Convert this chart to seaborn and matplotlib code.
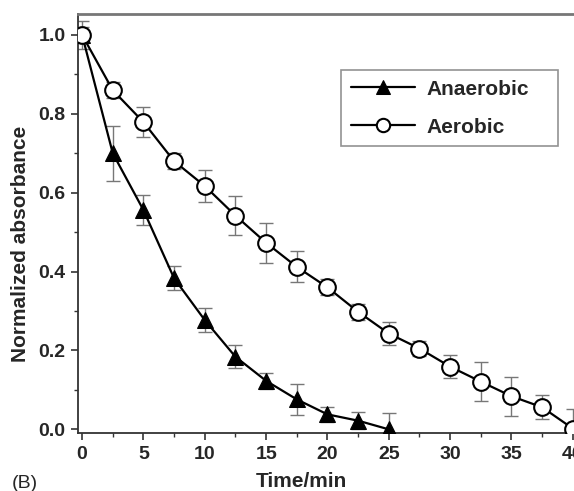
import matplotlib
matplotlib.use("Agg")
import matplotlib.pyplot as plt
import seaborn as sns
import numpy as np
import pandas as pd
from matplotlib.ticker import MultipleLocator

# data
t_anaer = [0, 2.5, 5, 7.5, 10, 12.5, 15, 17.5, 20, 22.5, 25]
y_anaer = [1.0, 0.70, 0.556, 0.383, 0.277, 0.184, 0.123, 0.076, 0.038, 0.022, 0.0]
e_anaer = [0.035, 0.07, 0.038, 0.03, 0.03, 0.029, 0.02, 0.039, 0.019, 0.022, 0.042]

t_aer = [0, 2.5, 5, 7.5, 10, 12.5, 15, 17.5, 20, 22.5, 25, 27.5, 30, 32.5, 35, 37.5, 40]
y_aer = [1.0, 0.86, 0.779, 0.68, 0.617, 0.542, 0.473, 0.412, 0.36, 0.298, 0.243, 0.205,
         0.159, 0.121, 0.084, 0.056, 0.002]
e_aer = [0.02, 0.02, 0.038, 0.02, 0.04, 0.05, 0.05, 0.039, 0.02, 0.02, 0.03, 0.02,
         0.03, 0.05, 0.05, 0.03, 0.05]

sns.set_style("ticks")
plt.rcParams['font.family'] = ['Liberation Sans', 'DejaVu Sans']

fig = plt.figure(figsize=(5.74, 4.91), dpi=100)
ax = fig.add_axes([0.136, 0.118, 0.894, 0.8525])

ax.errorbar(t_anaer, y_anaer, yerr=e_anaer, fmt='none', ecolor='#777777',
            elinewidth=1.0, capsize=5, capthick=1.0, zorder=1)
ax.errorbar(t_aer, y_aer, yerr=e_aer, fmt='none', ecolor='#777777',
            elinewidth=1.0, capsize=5, capthick=1.0, zorder=1)

df1 = pd.DataFrame({'t': t_anaer, 'y': y_anaer})
df2 = pd.DataFrame({'t': t_aer, 'y': y_aer})
sns.lineplot(data=df1, x='t', y='y', ax=ax, color='black', lw=1.6, marker='^',
             markersize=12, markerfacecolor='black', markeredgecolor='black',
             label='Anaerobic', zorder=3)
sns.lineplot(data=df2, x='t', y='y', ax=ax, color='black', lw=1.6, marker='o',
             markersize=12, markerfacecolor='white', markeredgecolor='black',
             markeredgewidth=1.5, label='Aerobic', zorder=3)

ax.set_xlim(-0.33, 41.5)
ax.set_ylim(-0.0094, 1.052)
ax.xaxis.set_major_locator(MultipleLocator(5))
ax.xaxis.set_minor_locator(MultipleLocator(2.5))
ax.yaxis.set_major_locator(MultipleLocator(0.2))
ax.yaxis.set_minor_locator(MultipleLocator(0.1))
ax.yaxis.set_major_formatter(plt.FuncFormatter(lambda v, p: f"{v:.1f}"))
ax.tick_params(axis='both', which='major', direction='out', length=5, width=1.2,
               labelsize=14, color='#333333', pad=4)
ax.tick_params(axis='both', which='minor', direction='out', length=3, width=1.0,
               color='#333333')
for lab in ax.get_xticklabels() + ax.get_yticklabels():
    lab.set_fontweight('bold')

for s in ['left', 'bottom']:
    ax.spines[s].set_color('#333333')
    ax.spines[s].set_linewidth(1.3)
ax.spines['top'].set_color('#777777')
ax.spines['top'].set_linewidth(2)
ax.spines['right'].set_visible(False)

ax.set_xlabel('Time/min', fontsize=15, fontweight='bold')
ax.set_ylabel('Normalized absorbance', fontsize=15, fontweight='bold')
ax.xaxis.set_label_coords(0.4347, -0.093)
ax.yaxis.set_label_coords(-0.094, 0.4515)

leg = ax.legend(loc='upper left', bbox_to_anchor=(0.5127, 0.767, 0.423, 0.1),
                mode='expand', frameon=True,
                fancybox=False, edgecolor='#777777', fontsize=15,
                handlelength=3.1, borderpad=0.45, labelspacing=0.92,
                handletextpad=0.55, borderaxespad=0, markerscale=0.8)
leg.get_frame().set_linewidth(1.2)
for txt in leg.get_texts():
    txt.set_fontweight('bold')

fig.text(0.02, 0.007, '(B)', fontsize=14, va='baseline')

fig.savefig('out.png', dpi=100)
